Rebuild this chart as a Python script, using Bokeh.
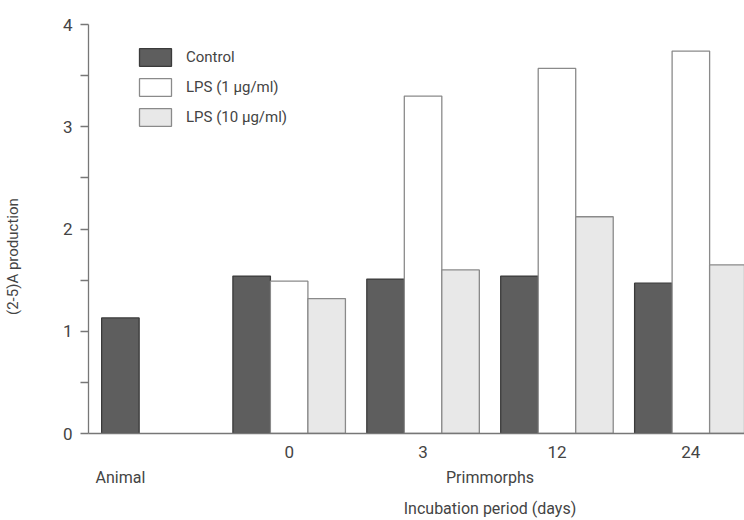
from bokeh.plotting import figure
from bokeh.models import (LinearAxis, FixedTicker, Range1d, Legend, LegendItem,
                          ColumnDataSource)
from bokeh.embed import file_html
from bokeh.resources import INLINE

# (2-5)A production by incubation period
days = ["0", "3", "12", "24"]
control = [1.54, 1.51, 1.54, 1.47]
lps_1 = [1.49, 3.30, 3.57, 3.74]
lps_10 = [1.32, 1.60, 2.12, 1.65]
animal_control = [1.13]
series_names = ["Control", "LPS (1 \u03bcg/ml)", "LPS (10 \u03bcg/ml)"]
group_names = ["Animal", "Primmorphs"]
y_ticks = [0, 1, 2, 3, 4]
y_title = "(2-5)A production"
x_title = "Incubation period (days)"

# horizontal layout, in bar widths
ANIMAL_X = 0.85
FIRST_GROUP_X = 5.35
GROUP_STEP = 3.57
group_x = [FIRST_GROUP_X + i * GROUP_STEP for i in range(len(days))]
primmorph_x = (group_x[1] + group_x[2]) / 2
Y_TITLE_AT = 1.73

FONT = "Roboto"
TEXT = "#444444"
AXIS = "#777777"

p = figure(width=744, height=520, output_backend="svg", toolbar_location=None,
           x_range=Range1d(0, 17.49), y_range=Range1d(0, 4),
           min_border_left=88, min_border_right=0, min_border_top=24,
           min_border_bottom=86, x_axis_location=None)
p.outline_line_color = None
p.grid.grid_line_color = None
p.background_fill_color = "white"
p.border_fill_color = "white"

styles = [
    dict(fill_color="#5e5e5e", line_color="#3a3a3a"),
    dict(fill_color="white", line_color="#8a8a8a"),
    dict(fill_color="#e8e8e8", line_color="#8a8a8a"),
]
offsets = [-1, 0, 1]
renderers = []
for vals, off, st in zip([control, lps_1, lps_10], offsets, styles):
    src = ColumnDataSource(dict(x=[g + off for g in group_x], top=vals))
    r = p.vbar(x="x", top="top", bottom=0, width=1.0, source=src,
               line_width=1.3, **st)
    renderers.append(r)

p.vbar(x=[ANIMAL_X], top=animal_control, bottom=0, width=1.0,
       line_width=1.3, **styles[0])

# y axis
ya = p.yaxis[0]
ya.ticker = FixedTicker(ticks=y_ticks, minor_ticks=[0.5, 1.5, 2.5, 3.5])
ya.major_label_text_font = FONT
ya.major_label_text_font_size = "17px"
ya.major_label_text_color = TEXT
ya.major_label_standoff = 8
ya.major_tick_in = 0
ya.major_tick_out = 8
ya.minor_tick_in = 0
ya.minor_tick_out = 8
ya.axis_line_color = AXIS
ya.major_tick_line_color = AXIS
ya.minor_tick_line_color = AXIS
ya.axis_line_width = 1.3
ya.major_tick_line_width = 1.3
ya.minor_tick_line_width = 1.3


def text_axis(side, ticks, labels, size, standoff, line=False, orientation="horizontal"):
    """An axis that only carries text labels at the given positions."""
    ax = LinearAxis(ticker=FixedTicker(ticks=ticks, minor_ticks=[]),
                    major_label_overrides={t: l for t, l in zip(ticks, labels)})
    ax.major_label_text_font = FONT
    ax.major_label_text_font_size = size
    ax.major_label_text_color = TEXT
    ax.major_label_standoff = standoff
    ax.major_label_orientation = orientation
    ax.major_tick_line_color = None
    ax.minor_tick_line_color = None
    ax.major_tick_in = 0
    ax.major_tick_out = 0
    ax.axis_line_color = AXIS if line else None
    ax.axis_line_width = 1.3
    p.add_layout(ax, side)
    return ax


# y title, rotated, slightly below the middle of the axis
text_axis("left", [Y_TITLE_AT], [y_title], "15px", 37, orientation="vertical")

# x axes: day labels, group labels, title
text_axis("below", group_x, days, "17px", 12, line=True)
text_axis("below", [ANIMAL_X, primmorph_x], group_names, "16px", 7)
text_axis("below", [primmorph_x], [x_title], "16px", 9)

legend = Legend(items=[LegendItem(label=n, renderers=[r]) for n, r in zip(series_names, renderers)],
                location=(47, 305), orientation="vertical")
legend.glyph_width = 40
legend.glyph_height = 22
legend.label_height = 22
legend.spacing = 8
legend.padding = 0
legend.margin = 0
legend.label_standoff = 11
legend.label_text_font = FONT
legend.label_text_font_size = "15px"
legend.label_text_color = TEXT
legend.border_line_color = None
legend.background_fill_alpha = 0
p.add_layout(legend)

open("out.html", "w").write(file_html(p, INLINE))
